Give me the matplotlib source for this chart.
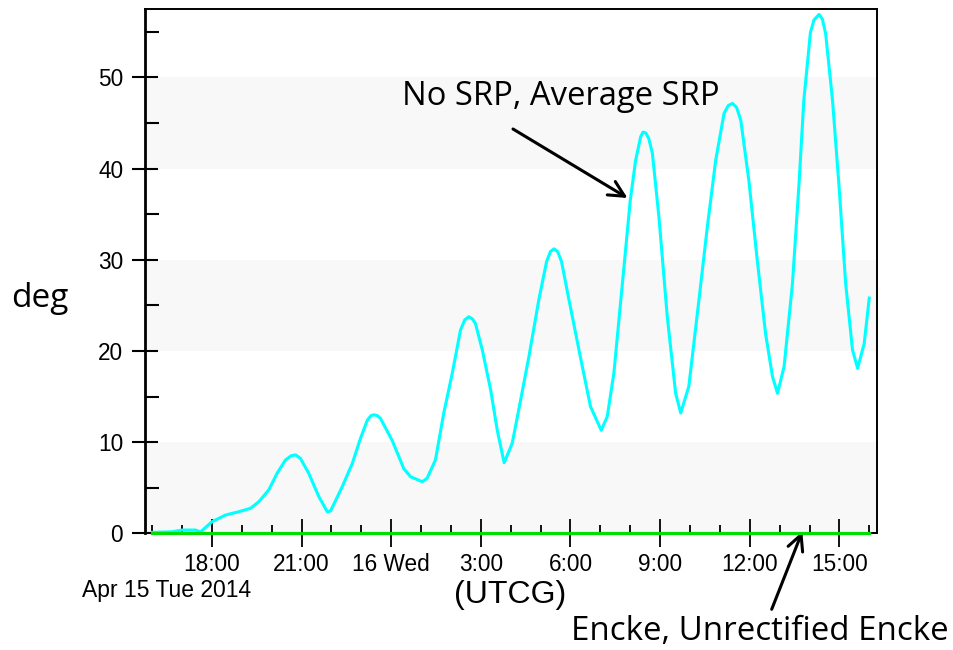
import matplotlib
matplotlib.use("Agg")
import matplotlib.pyplot as plt
import numpy as np

# hours after Apr 15 2014 16:00 UTCG
hours = [0.0, 0.67, 1.0, 1.45, 1.62, 2.0, 2.45, 2.9, 3.29, 3.57, 3.9, 4.18, 4.46,
         4.65, 4.8, 4.96, 5.24, 5.58, 5.86, 5.97, 6.36, 6.70, 6.97, 7.2, 7.32,
         7.42, 7.54, 7.64, 8.03, 8.42, 8.65, 9.04, 9.2, 9.48, 9.76, 10.04, 10.32,
         10.46, 10.6, 10.72, 10.82, 11.05, 11.33, 11.55, 11.78, 12.05, 12.33,
         12.61, 12.94, 13.2, 13.33, 13.45, 13.57, 13.7, 13.95, 14.34, 14.67,
         15.03, 15.23, 15.45, 15.79, 16.0, 16.18, 16.35, 16.43, 16.52, 16.62,
         16.74, 16.96, 17.24, 17.52, 17.69, 17.96, 18.3, 18.58, 18.86, 19.14,
         19.28, 19.42, 19.56, 19.7, 19.97, 20.25, 20.53, 20.76, 20.93, 21.15,
         21.43, 21.65, 21.81, 22.03, 22.15, 22.32, 22.43, 22.54, 22.77, 22.99,
         23.21, 23.44, 23.61, 23.83, 24.0]
srp_deg = [0.1, 0.17, 0.36, 0.36, 0.15, 1.27, 2.0, 2.37, 2.74, 3.47, 4.75, 6.58, 8.04,
           8.5, 8.6, 8.22, 6.58, 4.01, 2.37, 2.45, 5.11, 7.68, 10.4, 12.4, 12.9,
           13.0, 12.9, 12.6, 10.2, 7.1, 6.2, 5.66, 6.03, 8.04, 13.2, 17.5, 22.3,
           23.4, 23.75, 23.5, 23.0, 20.1, 15.7, 11.3, 7.74, 9.87, 14.6,
           19.4, 25.6, 29.8, 30.9, 31.2, 30.9, 29.8, 25.6, 19.2, 13.9,
           11.3, 12.8, 17.5, 29.2, 36.5, 40.9, 43.5, 44.0, 43.9, 43.3,
           41.7, 34.7, 23.75, 15.35, 13.2, 16.1, 25.6, 33.6, 40.9, 46.05,
           46.9, 47.15, 46.7, 45.3, 38.7, 30.0, 21.9, 17.2, 15.35, 18.3,
           27.4, 38.4, 47.5, 54.9, 56.3, 56.9, 56.4, 54.8, 47.5, 38.0,
           27.4, 20.1, 18.1, 20.8, 25.8]
encke_hours = [0.0, 24.0]
encke_deg = [0.0, 0.0]

major_ticks = [2, 5, 8, 11, 14, 17, 20, 23]
major_labels = ['18:00', '21:00', '16 Wed', '3:00', '6:00', '9:00', '12:00', '15:00']
bands = [(0, 10), (20, 30), (40, 50)]

fig = plt.figure(figsize=(9.54, 6.5), dpi=100)
ax = fig.add_axes([0.1517, 0.1795, 0.919 - 0.1517, 0.9862 - 0.1795])

for lo, hi in bands:
    ax.axhspan(lo, hi, color='#f8f8f8', zorder=0, lw=0)

ax.plot(hours, srp_deg, color='#00ffff', lw=2.2, zorder=2, solid_joinstyle='round')
ax.plot(encke_hours, encke_deg, color='#00dd00', lw=2.3, zorder=4, clip_on=False)

ax.set_xlim(-0.25, 24.25)
ax.set_ylim(0, 57.5)

ax.set_xticks(major_ticks)
ax.set_xticklabels(major_labels)
ax.set_xticks(np.arange(0, 25, 1), minor=True)
ax.set_yticks(np.arange(0, 51, 10))
ax.set_yticks(np.arange(5, 56, 10), minor=True)

for lab in ax.get_xticklabels() + ax.get_yticklabels():
    lab.set_family('Liberation Sans')
    lab.set_fontsize(16.3)

ax.tick_params(axis='x', which='major', direction='inout', length=20, width=1.3, pad=4)
ax.tick_params(axis='x', which='minor', direction='in', length=6, width=1.3)
ax.tick_params(axis='y', which='major', direction='inout', length=19, width=1.5, pad=6)
ax.tick_params(axis='y', which='minor', direction='in', length=10, width=1.5)

for s in ax.spines.values():
    s.set_linewidth(1.4)
    s.set_color('black')
ax.spines['left'].set_linewidth(2)

# labels
fig.text(0.0419, 1 - 307 / 650, 'deg', family='Open Sans', fontsize=24, ha='center', va='baseline')
fig.text(0.5346, 1 - 603.5 / 650, '(UTCG)', family='Liberation Sans', fontsize=23, ha='center', va='baseline')
fig.text(0.175, 1 - 597 / 650, 'Apr 15 Tue 2014', family='Liberation Sans', fontsize=16.5, ha='center', va='baseline')

# annotations
fig.text(0.5875, 1 - 105 / 650, 'No SRP, Average SRP', family='Open Sans', fontsize=23.6, ha='center', va='baseline')
ax.annotate('', xy=(15.91, 36.77), xytext=(513 / 954, 1 - 129 / 650), textcoords='figure fraction',
            arrowprops=dict(arrowstyle='->', lw=2.2, color='black', mutation_scale=28,
                            shrinkA=0, shrinkB=0))
fig.text(0.7966, 1 - 640 / 650, 'Encke, Unrectified Encke', family='Open Sans', fontsize=23.8, ha='center', va='baseline')
ax.annotate('', xy=(21.76, 0.2), xytext=(771.7 / 954, 1 - 609.3 / 650), textcoords='figure fraction',
            arrowprops=dict(arrowstyle='->', lw=2.2, color='black', mutation_scale=28,
                            shrinkA=0, shrinkB=0), annotation_clip=False)

fig.savefig('out.png', dpi=100)
